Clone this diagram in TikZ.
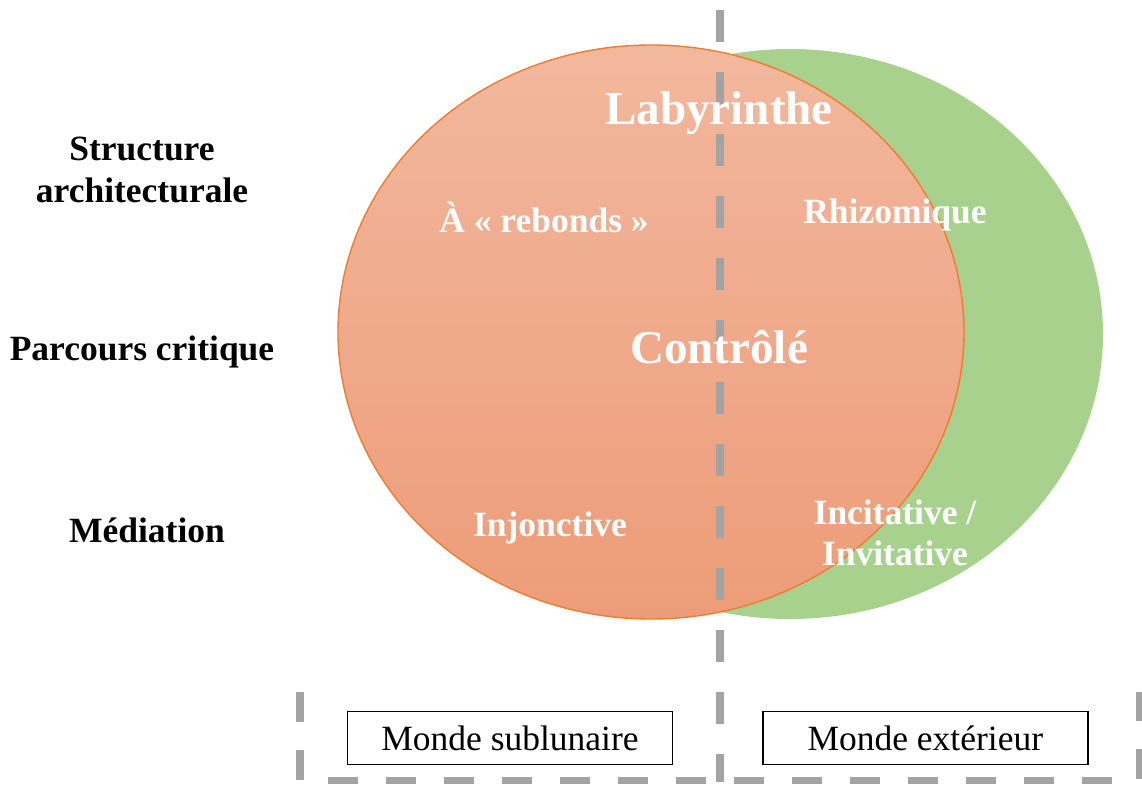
\documentclass[tikz,border=0pt]{standalone}
\usepackage{fontspec}
\setmainfont{Liberation Serif}
\usepackage{xcolor}
\usepackage{tikz}
\usetikzlibrary{positioning}

\definecolor{salmonTop}{RGB}{242,184,158}
\definecolor{salmonBot}{RGB}{237,156,120}
\definecolor{rimOrange}{RGB}{237,125,49}
\definecolor{leafGreen}{RGB}{169,209,142}
\definecolor{sepGray}{RGB}{163,163,163}

\begin{document}
\begin{tikzpicture}[
  x=0.02cm, y=-0.02cm,
  axis/.style={font=\fontsize{20.2}{23.6}\selectfont\bfseries, align=center},
  inlbl/.style={axis, text=white},
  biglbl/.style={inlbl, font=\fontsize{26.8}{30}\selectfont\bfseries},
  world/.style={draw, line width=0.8pt, minimum width=6.5cm, minimum height=1.06cm,
                font=\fontsize{20.2}{23.6}\selectfont},
  sep/.style={sepGray, line width=4pt, dash pattern=on 0.64cm off 0.6cm},
]
\useasboundingbox (0,0) rectangle (1142,785);

% ---------------- the two worlds ----------------
\fill[leafGreen] (790,334) ellipse [x radius=313, y radius=285];
\path[draw=rimOrange, line width=0.8pt, top color=salmonTop, bottom color=salmonBot]
  (651,332) ellipse [x radius=313, y radius=287];

% separators
\coordinate (septop) at (720,10);
\coordinate (sepbot) at (720,782);
\draw[sep] (septop) -- (sepbot);

\coordinate (frameNW) at (300,692);
\coordinate (frameSW) at (300,780);
\coordinate (frameSE) at (1139,780);
\coordinate (frameNE) at (1139,692);
\draw[sep, dash pattern=on 0.6cm off 0.56cm] (frameNW) -- (frameSW) -- (frameSE) -- (frameNE);

% ---------------- row headings ----------------
\node[axis] (archi) at (142,170) {Structure\\architecturale};
\node[axis] (parcours) at (142,352) {Parcours critique};
\node[axis] (mediation) at (147,530) {Médiation};

% ---------------- inner labels ----------------
\node[biglbl] (laby) at (719,113) {Labyrinthe};
\node[inlbl] (rebonds) at (544,217) {À « rebonds »};
\node[inlbl] (rhizo) at (895,215) {Rhizomique};
\node[biglbl] (controle) at (719,347) {Contrôlé};
\node[inlbl] (injonc) at (550,528) {Injonctive};
\node[inlbl] (incit) at (895,533) {Incitative /\\Invitative};

% ---------------- world boxes ----------------
\node[world] (sublun) at (510,738) {Monde sublunaire};
\node[world, right=1.78cm of sublun] (exter) {Monde extérieur};
\end{tikzpicture}
\end{document}
